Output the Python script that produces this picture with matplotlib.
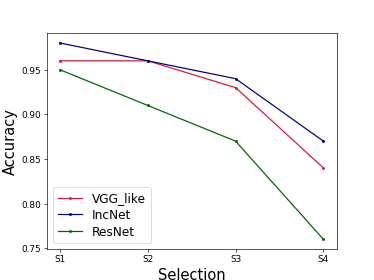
import matplotlib
matplotlib.use("Agg")
import matplotlib.pyplot as plt

selections = ["S1", "S2", "S3", "S4"]
vgg_like = [0.96, 0.96, 0.93, 0.84]
incnet = [0.98, 0.96, 0.94, 0.87]
resnet = [0.95, 0.91, 0.87, 0.76]

fig, ax = plt.subplots(figsize=(6.4, 4.8), dpi=374/6.4)
ax.plot(selections, vgg_like, color="crimson", marker=".", markersize=5, label="VGG_like")
ax.plot(selections, incnet, color="navy", marker=".", markersize=5, label="IncNet")
ax.plot(selections, resnet, color="darkgreen", marker=".", markersize=5, label="ResNet")
ax.set_xlabel("Selection", fontsize=18)
ax.set_ylabel("Accuracy", fontsize=18)
ax.tick_params(labelsize=11)
ax.legend(fontsize=15, labelspacing=0.3)
fig.savefig("out.png")
